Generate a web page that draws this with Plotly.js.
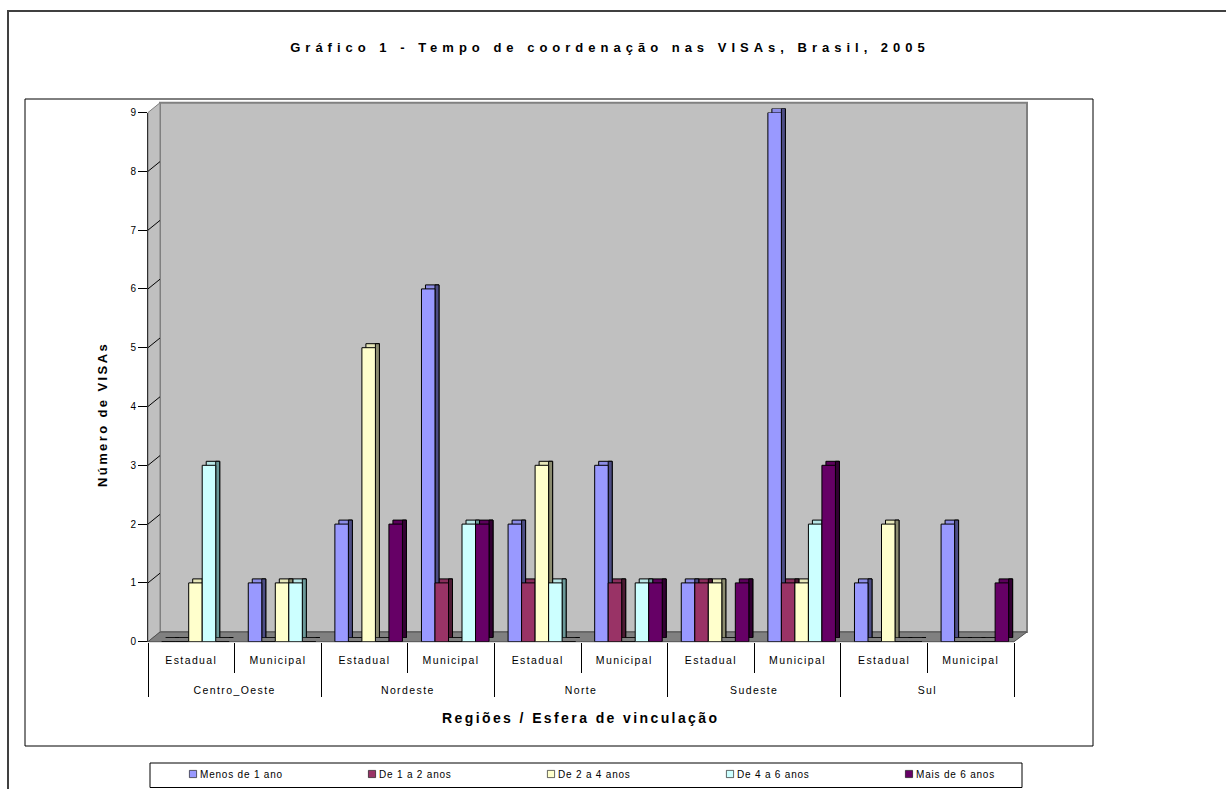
<!DOCTYPE html>
<html>
<head>
<meta charset="utf-8">
<script src="https://cdn.plot.ly/plotly-3.0.1.min.js"></script>
<style>
  html, body { margin: 0; padding: 0; background: #ffffff; width: 1226px; height: 789px; overflow: hidden; }
  #chart { width: 1226px; height: 789px; overflow: hidden; }
  .gtitle { letter-spacing: 5px; }
  .annotation-text { letter-spacing: 2.4px; }
  [class^="x3tick"] text, text[class^="x3tick"] { letter-spacing: 1.4px; }
  .legendtext { letter-spacing: 0.8px; }
  .legendpoints path { transform: translate(33px, 0px) scale(0.6); }
</style>
</head>
<body>
<div id="chart"></div>
<script>
// ---------------- data ----------------
const regions = ["Centro_Oeste", "Centro_Oeste", "Nordeste", "Nordeste", "Norte", "Norte", "Sudeste", "Sudeste", "Sul", "Sul"];
const spheres = ["Estadual", "Municipal", "Estadual", "Municipal", "Estadual", "Municipal", "Estadual", "Municipal", "Estadual", "Municipal"];
const seriesNames = ["Menos de 1 ano", "De 1 a 2 anos", "De 2 a 4 anos", "De 4 a 6 anos", "Mais de 6 anos"];
const menosDe1Ano = [0, 1, 2, 6, 2, 3, 1, 9, 1, 2];
const de1a2Anos   = [0, 0, 0, 1, 1, 1, 1, 1, 0, 0];
const de2a4Anos   = [1, 1, 5, 0, 3, 0, 1, 1, 2, 0];
const de4a6Anos   = [3, 1, 0, 2, 1, 1, 0, 2, 0, 0];
const maisDe6Anos = [0, 0, 2, 2, 0, 1, 1, 3, 0, 1];
const yTickVals = [0, 1, 2, 3, 4, 5, 6, 7, 8, 9];
const titleText = "Gráfico 1 - Tempo de coordenação nas VISAs, Brasil, 2005";
const xTitleText = "Regiões / Esfera de vinculação";
const yTitleText = "Número de VISAs";

// ---------------- style ----------------
const faceColors = ["#9999FF", "#993366", "#FFFFCC", "#CCFFFF", "#660066"];
const topColors  = ["#8C8CE6", "#8A2E5C", "#E6E6B8", "#B8E6E6", "#5C005C"];
const sideColors = ["#4D4D85", "#4D1A33", "#8C8C70", "#6B9999", "#330033"];
const FONT = "'Liberation Sans', Arial, sans-serif";
const W = 1226, H = 789;
const fx = p => p / W;           // pixel x -> paper
const fy = p => 1 - p / H;       // pixel y -> paper

// geometry of the pseudo-3D box (pixels)
const frontL = 148, frontR = 1014, zeroY = 641.7, unitPx = 58.8, yMax = 9;
const depthX = 12, depthY = 9.7;        // floor depth offset
const barDX = 4, barDY = 4;             // bar extrusion
const topY = zeroY - yMax * unitPx;
const catPx = (frontR - frontL) / regions.length;
const barW = 0.156, groupStart = -0.342, sideW = barDX / catPx;
// extra blank label lines push the region (outer) labels down, as in the reference
const innerPad = "<br>\u00A0<br>\u00A0";

const seriesVals = [menosDe1Ano, de1a2Anos, de2a4Anos, de4a6Anos, maisDe6Anos];
const xMulti = [regions, spheres.map(s => s + innerPad)];

const traces = [];
// extruded top faces, on a subplot shifted by the extrusion
seriesVals.forEach((vals, j) => {
  traces.push({
    type: "bar", x: xMulti, y: vals, name: seriesNames[j] + " (topo)",
    xaxis: "x2", yaxis: "y2", showlegend: false, hoverinfo: "skip",
    width: barW, offset: groupStart + j * barW,
    marker: { color: topColors[j], line: { color: "#000000", width: 1 } }
  });
});
// extruded side faces
seriesVals.forEach((vals, j) => {
  traces.push({
    type: "bar", x: xMulti, y: vals, name: seriesNames[j] + " (lado)",
    xaxis: "x2", yaxis: "y2", showlegend: false, hoverinfo: "skip",
    width: sideW, offset: groupStart + (j + 1) * barW - sideW,
    marker: { color: sideColors[j], line: { color: "#000000", width: 1 } }
  });
});
// front faces
seriesVals.forEach((vals, j) => {
  traces.push({
    type: "bar", x: xMulti, y: vals, name: seriesNames[j],
    xaxis: "x3", yaxis: "y3", hoverinfo: "y+name",
    width: barW, offset: groupStart + j * barW,
    marker: { color: faceColors[j], line: { color: "#000000", width: 1 } }
  });
});

// ---------------- decorative shapes (paper px) ----------------
const shapes = [];
const path = (pts, close) => pts.map((p, i) => (i ? "L" : "M") + fx(p[0]).toFixed(5) + "," + fy(p[1]).toFixed(5)).join(" ") + (close === false ? "" : " Z");
// outer chart border (continues past the right and bottom edges of the picture)
shapes.push({ type: "path", xref: "paper", yref: "paper", layer: "below",
  path: path([[8, 789], [8, 11], [1226, 11]], false), line: { color: "#404040", width: 2 } });
// plot area border
shapes.push({ type: "rect", xref: "paper", yref: "paper", layer: "below",
  x0: fx(25), x1: fx(1093), y0: fy(99), y1: fy(746), line: { color: "#000000", width: 1 } });
// back wall
shapes.push({ type: "rect", xref: "paper", yref: "paper", layer: "below",
  x0: fx(frontL + depthX), x1: fx(frontR + depthX + 1), y0: fy(zeroY - depthY), y1: fy(topY - depthY),
  fillcolor: "#C0C0C0", line: { color: "#808080", width: 2 } });
// left side wall
shapes.push({ type: "path", xref: "paper", yref: "paper", layer: "below",
  path: path([[frontL, zeroY], [frontL, topY], [frontL + depthX, topY - depthY], [frontL + depthX, zeroY - depthY]]),
  fillcolor: "#C0C0C0", line: { color: "#808080", width: 1 } });
yTickVals.slice(1, -1).forEach(v => {
  shapes.push({ type: "line", xref: "paper", yref: "paper", layer: "below",
    x0: fx(frontL), y0: fy(zeroY - v * unitPx), x1: fx(frontL + depthX), y1: fy(zeroY - depthY - v * unitPx),
    line: { color: "#000000", width: 1 } });
});
// floor
shapes.push({ type: "path", xref: "paper", yref: "paper", layer: "below",
  path: path([[frontL, zeroY], [frontL + depthX, zeroY - depthY], [frontR + depthX + 1, zeroY - depthY], [frontR, zeroY]]),
  fillcolor: "#808080", line: { color: "#505050", width: 1 } });
// legend box
shapes.push({ type: "rect", xref: "paper", yref: "paper", layer: "below",
  x0: fx(150), x1: fx(1022), y0: fy(763), y1: fy(787.5), line: { color: "#000000", width: 1 } });

const layout = {
  width: W, height: H,
  margin: { l: 0, r: 0, t: 0, b: 0 },
  paper_bgcolor: "#FFFFFF", plot_bgcolor: "rgba(0,0,0,0)",
  font: { family: FONT, color: "#000000", size: 11 },
  title: { text: titleText, x: fx(610), xref: "paper", xanchor: "center", y: fy(47), yref: "paper", yanchor: "middle",
    font: { family: FONT, size: 13, weight: "bold", color: "#000000" } },
  barmode: "group", bargap: 0.22, bargroupgap: 0,
  showlegend: true,
  legend: { orientation: "h", x: fx(160), y: fy(788.5), xanchor: "left", yanchor: "bottom",
    entrywidth: 134, entrywidthmode: "pixels", bgcolor: "rgba(0,0,0,0)", borderwidth: 0,
    font: { family: FONT, size: 10, color: "#000000" }, traceorder: "normal" },
  annotations: [
    { text: xTitleText, xref: "paper", yref: "paper", x: fx(580), y: fy(718), xanchor: "center", yanchor: "middle",
      showarrow: false, font: { family: FONT, size: 14, weight: "bold", color: "#000000" } },
    { text: yTitleText, xref: "paper", yref: "paper", x: fx(102), y: fy(415), xanchor: "center", yanchor: "middle",
      textangle: -90, showarrow: false, font: { family: FONT, size: 13, weight: "bold", color: "#000000" } }
  ],
  // back wall grid subplot
  xaxis: { domain: [fx(frontL + depthX), fx(frontR + depthX)], range: [0, 1], anchor: "y",
    showgrid: false, zeroline: false, showticklabels: false, ticks: "", showline: false, fixedrange: true },
  yaxis: { domain: [fy(zeroY - depthY), fy(topY - depthY)], range: [0, yMax], anchor: "x",
    tickvals: yTickVals.slice(1, -1), showgrid: true, gridcolor: "#000000", gridwidth: 1,
    zeroline: false, showticklabels: false, ticks: "", showline: false, fixedrange: true },
  // extrusion subplot (shifted by the bar depth)
  xaxis2: { type: "multicategory", domain: [fx(frontL + barDX), fx(frontR + barDX)], anchor: "y2",
    showticklabels: false, showdividers: false, ticks: "", showgrid: false, showline: false, zeroline: false, fixedrange: true },
  yaxis2: { domain: [fy(zeroY - barDY), fy(topY - barDY)], range: [0, yMax], anchor: "x2",
    showticklabels: false, ticks: "", showgrid: false, zeroline: false, showline: false, fixedrange: true },
  // front subplot with the real axes
  xaxis3: { type: "multicategory", domain: [fx(frontL), fx(frontR)], anchor: "y3",
    showgrid: false, zeroline: false, showline: false,
    ticks: "outside", tickson: "boundaries", ticklen: 30, tickcolor: "#000000", tickwidth: 1,
    ticklabelstandoff: 11, tickangle: 0,
    showdividers: true, dividercolor: "#000000", dividerwidth: 1,
    tickfont: { family: FONT, size: 10.5, color: "#000000" },
    automargin: false, fixedrange: true },
  yaxis3: { domain: [fy(zeroY), fy(topY)], range: [0, yMax], anchor: "x3",
    tickvals: yTickVals, ticks: "outside", ticklen: 9, tickcolor: "#000000", tickwidth: 1,
    showgrid: false, zeroline: false, showline: true, linecolor: "#303030", linewidth: 1,
    tickfont: { family: FONT, size: 10, color: "#000000" },
    automargin: false, fixedrange: true },
  shapes: shapes
};

Plotly.newPlot("chart", traces, layout, { displayModeBar: false });
</script>
</body>
</html>
